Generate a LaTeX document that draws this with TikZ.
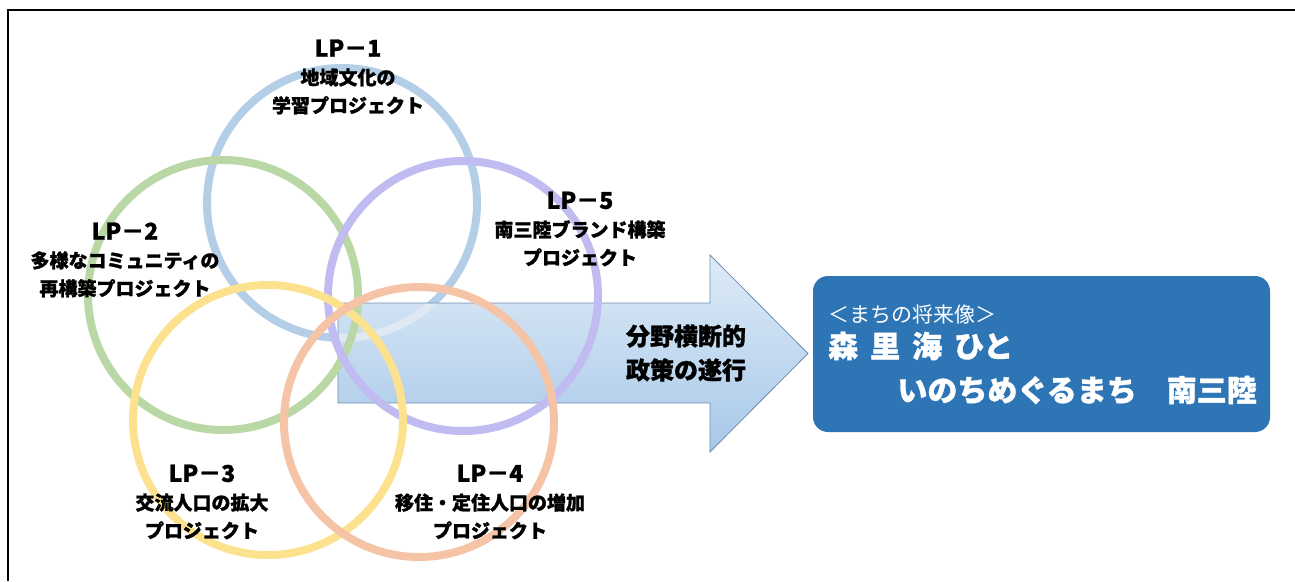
\documentclass[tikz,border=0pt]{standalone}
\usepackage{fontspec}
\setmainfont{Noto Sans CJK JP}[BoldFont={Noto Sans CJK JP Black},BoldFeatures={FakeBold=1.2}]
\usetikzlibrary{positioning}
\definecolor{ringblue}{RGB}{181,206,231}
\definecolor{ringgreen}{RGB}{186,216,166}
\definecolor{ringpurple}{RGB}{192,187,240}
\definecolor{ringyellow}{RGB}{252,226,142}
\definecolor{ringorange}{RGB}{245,196,166}
\definecolor{arrowtop}{RGB}{222,235,247}
\definecolor{arrowbottom}{RGB}{168,200,232}
\definecolor{arrowline}{RGB}{112,142,176}
\definecolor{visionblue}{RGB}{46,117,182}
\begin{document}
\begin{tikzpicture}[x=1pt,y=-1pt,
  ring/.style={draw=#1,line width=8pt,circle,minimum size=270pt,inner sep=0pt},
  lp/.style={align=center,inner sep=0pt,font=\bfseries\fontsize{19}{28}\selectfont},
  vision/.style={fill=visionblue,rounded corners=15pt,minimum width=457pt,minimum height=156pt,inner sep=0pt},
  motto/.style={text=white,inner sep=0pt,font=\bfseries\fontsize{30}{34}\selectfont}]
\useasboundingbox (0,0) rectangle (1295,581);
\draw[line width=2pt] (8,581) -- (8,10) -- (1300,10);
% rings
\node[ring=ringblue] (c1) at (342,203) {};
\def\arrowpath{(338,303) -- (710,303) -- (710,255) -- (808,353.5) -- (710,452) -- (710,403) -- (338,403) -- cycle}
\shade[top color=arrowtop,bottom color=arrowbottom] \arrowpath;
\begin{scope}
  \clip \arrowpath;
  \draw[ringblue!45!white,line width=8pt] (c1.center) circle[radius=135pt];
\end{scope}
\draw[arrowline,line width=.8pt] \arrowpath;
\node[ring=ringgreen] (c2) at (223,295) {};
\node[ring=ringpurple] (c5) at (463,296) {};
\node[ring=ringyellow] (c3) at (268,420) {};
\node[ring=ringorange] (c4) at (419,422) {};
% labels
\node[lp] (lp1) at (348,77) {{\fontsize{23}{28}\selectfont LP－1}\\地域文化の\\学習プロジェクト};
\node[lp] (lp2) at (125,260) {{\fontsize{23}{28}\selectfont LP－2}\\多様なコミュニティの\\再構築プロジェクト};
\node[lp] (lp5) at (580,229) {{\fontsize{23}{28}\selectfont LP－5}\\南三陸ブランド構築\\プロジェクト};
\node[lp] (lp3) at (202,502) {{\fontsize{23}{28}\selectfont LP－3}\\交流人口の拡大\\プロジェクト};
\node[lp] (lp4) at (490,502) {{\fontsize{23}{28}\selectfont LP－4}\\移住・定住人口の増加\\プロジェクト};
\node[align=center,inner sep=0pt,font=\bfseries\fontsize{24}{34}\selectfont] (policy) at (686,353) {分野横断的\\政策の遂行};
% vision
\node[vision] (vision) at (1041.5,354) {};
\node[anchor=west,text=white,inner sep=0pt,font=\fontsize{21}{24}\selectfont] (future) at (828,315) {＜まちの将来像＞};
\node[motto,anchor=west] (motto1) at (828,346) {森\hspace{.4em}里\hspace{.4em}海\hspace{.4em}ひと};
\node[motto,anchor=east] (motto2) at (1257,390) {いのちめぐるまち　南三陸};
\end{tikzpicture}
\end{document}
